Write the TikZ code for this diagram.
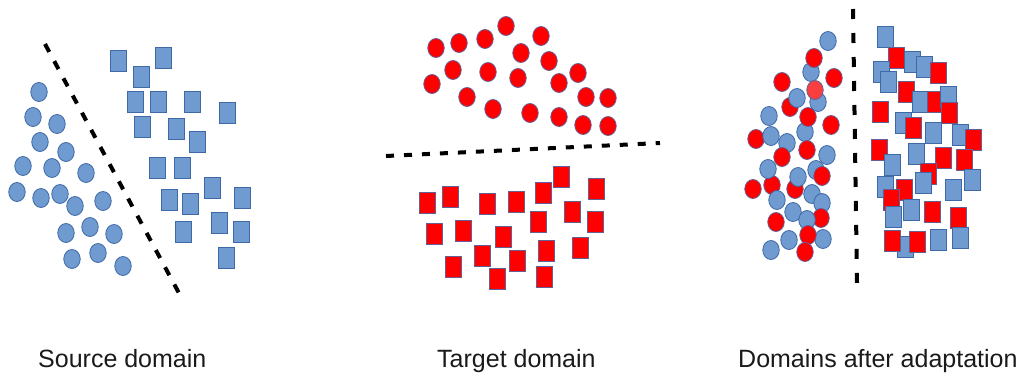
\documentclass[tikz,border=0pt]{standalone}
\usepackage{fontspec}
\setmainfont{Liberation Sans}
\usetikzlibrary{shapes.geometric}
\definecolor{fillb}{RGB}{111,155,209}
\definecolor{edgeb}{RGB}{62,104,166}
\definecolor{fillr}{RGB}{255,0,0}
\definecolor{edger}{RGB}{100,96,150}
\definecolor{filll}{RGB}{248,62,62}
\definecolor{edgel}{RGB}{100,96,150}
\definecolor{captext}{RGB}{26,26,26}

\begin{document}
\begin{tikzpicture}[x=1pt,y=-1pt,
  blob/.style={ellipse,line width=0.8pt,minimum width=16.5pt,minimum height=19pt,inner sep=0pt,fill=fill#1,draw=edge#1},
  tile/.style={rectangle,line width=0.8pt,minimum width=16pt,minimum height=21pt,inner sep=0pt,fill=fill#1,draw=edge#1},
  split/.style={line width=4pt,black},
  caption/.style={font=\fontsize{25}{30}\selectfont,text=captext,anchor=base west,inner sep=0pt}]
\useasboundingbox (0,0) rectangle (1024,375);

\foreach \x/\y [count=\i] in {39/92,33/117,57/124,40/142,66/152,23/166,52/168,86/173,17/192,41/198,
  60/194,75/206,103/201,66/233,90/227,114/234,72/259,98/253,123/266}
  \node[blob=b] (sc\i) at (\x,\y) {};
\foreach \x/\y [count=\i] in {118/61,163/58,141/77,135/102,158/102,192/102,227/113,142/127,176/129,197/142,
  157/168,182/168,212/188,242/198,169/200,190/204,219/223,241/232,183/232,226/258}
  \node[tile=b] (ss\i) at (\x,\y) {};
\coordinate (s1) at (45,44);
\coordinate (s2) at (180,295);
\draw[split,dash pattern=on 9pt off 10.5pt] (s1) -- (s2);

\foreach \x/\y [count=\i] in {506/26,541/36,436/48,459/43,485/39,521/53,549/61,453/70,488/72,518/78,
  432/84,578/73,559/83,467/97,586/97,608/98,493/109,530/113,559/117,583/125,608/126}
  \node[blob=r] (tc\i) at (\x,\y) {};
\foreach \x/\y [count=\i] in {561/177,596/189,427/203,450/197,487/204,516/202,543/193,572/212,538/222,595/222,
  434/234,463/231,503/237,482/256,517/261,546/251,580/248,453/267,497/279,544/277}
  \node[tile=r] (ts\i) at (\x,\y) {};
\coordinate (t1) at (386,156);
\coordinate (t2) at (660,143);
\draw[split,dash pattern=on 8pt off 10pt] (t1) -- (t2);

\foreach \x/\y/\c [count=\i] in {828/41/b,811/72/b,814/58/r,834/78/r,782/82/r,818/102/b,815/90/l,790/107/r,
  797/98/b,769/116/b,805/132/b,808/117/r,831/125/r,756/139/r,771/136/b,807/150/r,787/143/b,827/155/b,
  782/157/r,772/185/r,768/169/b,816/170/b,822/176/r,795/189/r,798/177/b,753/189/r,777/200/b,812/194/b,
  822/203/b,793/212/b,821/218/r,807/220/b,776/222/r,789/240/b,823/239/b,808/235/r,771/250/b,805/252/r}
  \node[blob=\c] (ac\i) at (\x,\y) {};
\foreach \x/\y/\c [count=\i] in {885/37/b,896/58/r,912/62/b,881/72/b,924/67/b,938/73/r,888/82/b,906/92/r,
  920/102/b,935/102/r,948/97/b,949/113/r,880/112/r,903/123/b,913/128/r,933/133/b,960/135/b,973/140/r,
  879/150/r,916/154/b,892/165/b,943/158/r,964/160/r,928/174/r,923/183/b,972/180/b,885/187/b,904/190/r,
  953/190/b,891/200/r,911/210/b,893/217/b,932/212/r,958/218/r,905/247/b,892/241/r,917/242/r,938/240/b,960/238/b}
  \node[tile=\c] (as\i) at (\x,\y) {};
\coordinate (a1) at (853,9);
\coordinate (a2) at (857,283);
\draw[split,dash pattern=on 10pt off 14pt] (a1) -- (a2);

\node[caption] (srclabel) at (38,367) {Source domain};
\node[caption] (tgtlabel) at (437,367) {Target domain};
\node[caption] (adalabel) at (738,367) {Domains after adaptation};
\end{tikzpicture}
\end{document}
